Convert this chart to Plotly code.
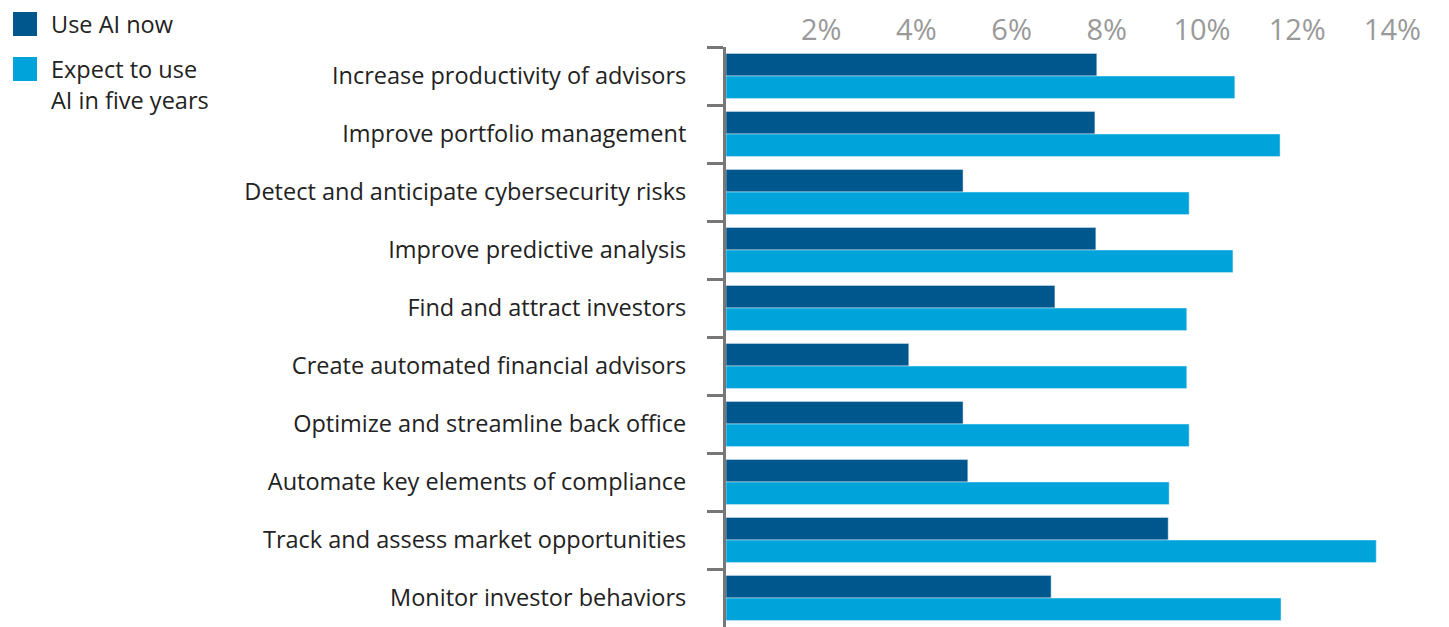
import plotly.graph_objects as go

categories = [
    "Increase productivity of advisors",
    "Improve portfolio management",
    "Detect and anticipate cybersecurity risks",
    "Improve predictive analysis",
    "Find and attract investors",
    "Create automated financial advisors",
    "Optimize and streamline back office",
    "Automate key elements of compliance",
    "Track and assess market opportunities",
    "Monitor investor behaviors",
]
use_now = [7.79, 7.75, 4.98, 7.77, 6.91, 3.84, 4.98, 5.08, 9.29, 6.83]
expect_5y = [10.69, 11.64, 9.73, 10.65, 9.68, 9.68, 9.73, 9.31, 13.66, 11.66]
tick_vals = [2, 4, 6, 8, 10, 12, 14]
tick_text = ["2%", "4%", "6%", "8%", "10%", "12%", "14%"]
legend_names = ["Use AI now", "Expect to use<br>AI in five years"]

DARK = "#00578E"
LIGHT = "#00A4DA"
OFF = 8  # page body margin
W, H = 1449 - OFF, 627 - OFF
L, T = 726 - OFF, 47 - OFF
PW, PH = W - L, H - T

fig = go.Figure()
fig.add_trace(go.Bar(y=categories, x=use_now, orientation="h", marker_color=DARK,
                     name=legend_names[0], showlegend=False))
fig.add_trace(go.Bar(y=categories, x=expect_5y, orientation="h", marker_color=LIGHT,
                     name=legend_names[1], showlegend=False))

def px_x(px):
    return (px - OFF - L) / PW

def px_y(py):
    return (H - (py - OFF)) / PH

# manual legend
for (y0, color, name) in [(12, DARK, legend_names[0]), (57, LIGHT, legend_names[1])]:
    fig.add_shape(type="rect", xref="paper", yref="paper",
                  x0=px_x(13), x1=px_x(37), y0=px_y(y0 + 24), y1=px_y(y0),
                  fillcolor=color, line_width=0)
    fig.add_annotation(xref="paper", yref="paper", x=px_x(49), y=px_y(y0 - 6),
                       xanchor="left", yanchor="top", text=name, showarrow=False,
                       align="left", font=dict(size=23.5, color="#222222", family="Open Sans"))

fig.update_layout(
    width=W, height=H,
    margin=dict(l=L, r=0, t=T, b=0, pad=0),
    plot_bgcolor="white", paper_bgcolor="white",
    barmode="group", bargap=0.22, bargroupgap=0,
    font=dict(family="Open Sans", size=23.5, color="#222222"),
    xaxis=dict(side="top", range=[0, PW / 47.6], tickvals=tick_vals, ticktext=tick_text,
               showgrid=False, zeroline=False, showline=False, ticks="",
               tickfont=dict(size=29, color="#999999", family="Open Sans")),
    yaxis=dict(autorange="reversed", showgrid=False, zeroline=False,
               showline=True, linecolor="#777777", linewidth=3,
               ticks="outside", tickson="boundaries", ticklen=16, tickwidth=3,
               tickcolor="#777777", ticklabelstandoff=32,
               tickfont=dict(size=23.5, color="#222222", family="Open Sans")),
)

fig.write_html("out.html")
